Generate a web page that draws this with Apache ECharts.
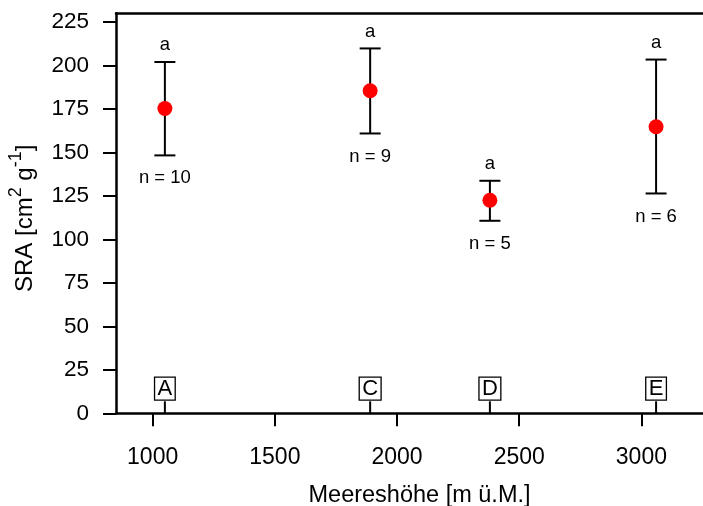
<!DOCTYPE html>
<html>
<head>
<meta charset="utf-8">
<script src="https://cdn.jsdelivr.net/npm/echarts@6/dist/echarts.min.js"></script>
<style>html,body{margin:0;padding:0;background:#fff;}#c{width:703px;height:506px;}</style>
</head>
<body>
<div id="c"></div>
<script>
// ---- data ----
const siteX = [1050, 1890, 2380, 3060];
const siteLabels = ['A', 'C', 'D', 'E'];
const sraMean = [175.3, 185.5, 122.5, 164.8];
const sraLower = [148.3, 160.9, 110.7, 126.4];
const sraUpper = [202.0, 209.8, 133.7, 203.4];
const nLabels = ['n = 10', 'n = 9', 'n = 5', 'n = 6'];
const groupLetters = ['a', 'a', 'a', 'a'];
const yTicks = [0, 25, 50, 75, 100, 125, 150, 175, 200, 225];
const xTicks = [1000, 1500, 2000, 2500, 3000];

const FONT = "'Liberation Sans', Arial, sans-serif";

const errData = siteX.map((x, i) => [x, sraLower[i], sraUpper[i], i]);
const meanData = siteX.map((x, i) => [x, sraMean[i]]);
const siteData = siteX.map((x, i) => [x, 0, i]);

const chart = echarts.init(document.getElementById('c'), null, {renderer: 'canvas'});
chart.setOption({
  animation: false,
  backgroundColor: '#fff',
  grid: {
    left: 116, top: 13.3, bottom: 92.7, right: 0,
    containLabel: false,
    outerBoundsMode: 'none',
    show: false
  },
  xAxis: [{
    type: 'value', min: 850, max: 3252, position: 'bottom',
    name: 'Meereshöhe [m ü.M.]', nameLocation: 'middle', nameGap: 70,
    nameTextStyle: {fontFamily: FONT, fontSize: 23.5, color: '#000', padding: [0, 0, 0, 20]},
    axisLine: {show: true, onZero: false, lineStyle: {color: '#000', width: 2.5}},
    axisTick: {show: true, inside: false, length: 13, lineStyle: {color: '#000', width: 2}, customValues: xTicks},
    axisLabel: {fontFamily: FONT, fontSize: 23, color: '#000', margin: 33, customValues: xTicks,
      formatter: function (v) { return String(v); }},
    splitLine: {show: false}
  }, {
    type: 'value', min: 850, max: 3252, position: 'top',
    axisLine: {show: true, onZero: false, lineStyle: {color: '#000', width: 2.5}},
    axisTick: {show: false}, axisLabel: {show: false}, splitLine: {show: false}
  }],
  yAxis: {
    type: 'value', min: 0, max: 230,
    name: '{m|SRA [cm}{s|2}{m| g}{s|-1}{m|]}', nameLocation: 'middle', nameGap: 79,
    nameTextStyle: {
      fontFamily: FONT, fontSize: 24, color: '#000', padding: [0, 10, 0, 0],
      rich: {
        m: {fontFamily: FONT, fontSize: 24, color: '#000', lineHeight: 30, verticalAlign: 'bottom'},
        s: {fontFamily: FONT, fontSize: 18, color: '#000', lineHeight: 16, verticalAlign: 'top'}
      }
    },
    axisLine: {show: true, onZero: false, lineStyle: {color: '#000', width: 2.5}},
    axisTick: {show: true, inside: false, length: 13, lineStyle: {color: '#000', width: 2}, customValues: yTicks},
    axisLabel: {fontFamily: FONT, fontSize: 22.5, color: '#000', margin: 27, customValues: yTicks},
    splitLine: {show: false}
  },
  series: [
    {
      type: 'custom',
      data: errData,
      z: 2,
      renderItem: function (params, api) {
        const x = api.value(0), lo = api.value(1), hi = api.value(2);
        const idx = api.value(3);
        const pLo = api.coord([x, lo]);
        const pHi = api.coord([x, hi]);
        const hw = 10.5;
        const st = {stroke: '#000', lineWidth: 2};
        return {
          type: 'group',
          children: [
            {type: 'line', shape: {x1: pLo[0], y1: pLo[1], x2: pHi[0], y2: pHi[1]}, style: st},
            {type: 'line', shape: {x1: pLo[0] - hw, y1: pLo[1], x2: pLo[0] + hw, y2: pLo[1]}, style: st},
            {type: 'line', shape: {x1: pHi[0] - hw, y1: pHi[1], x2: pHi[0] + hw, y2: pHi[1]}, style: st},
            {type: 'text', x: pHi[0], y: pHi[1] - 17, style: {
              text: groupLetters[idx], fill: '#000', font: '18.5px ' + FONT,
              align: 'center', verticalAlign: 'middle'}},
            {type: 'text', x: pLo[0], y: pLo[1] + 23, style: {
              text: nLabels[idx], fill: '#000', font: '18.5px ' + FONT,
              align: 'center', verticalAlign: 'middle'}}
          ]
        };
      }
    },
    {
      type: 'scatter',
      data: meanData,
      symbol: 'circle',
      symbolSize: 15,
      itemStyle: {color: '#ff0000', opacity: 1},
      z: 3
    },
    {
      type: 'custom',
      data: siteData,
      z: 2,
      renderItem: function (params, api) {
        const x = api.value(0);
        const idx = api.value(2);
        const p = api.coord([x, 0]);
        return {
          type: 'group',
          children: [
            {type: 'line', shape: {x1: p[0], y1: p[1], x2: p[0], y2: p[1] - 12}, style: {stroke: '#000', lineWidth: 2}},
            {type: 'text', x: p[0], y: p[1] - 24.6, style: {
              text: siteLabels[idx], fill: '#000', font: '22px ' + FONT,
              align: 'center', verticalAlign: 'middle',
              borderColor: '#000', borderWidth: 1.3, padding: [1, 3, 0, 3]}}
          ]
        };
      }
    }
  ]
});
</script>
</body>
</html>
